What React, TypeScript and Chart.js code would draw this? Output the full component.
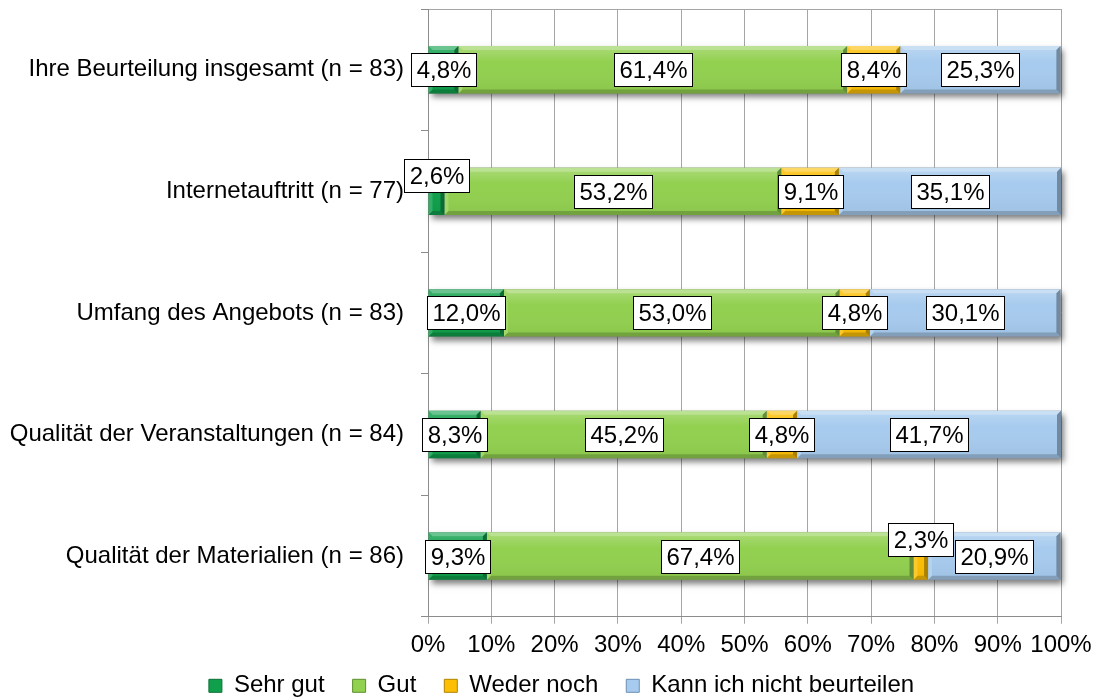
import { useEffect, useRef } from "react";
import { Chart, registerables } from "chart.js";

Chart.register(...registerables);

// ---------- data ----------
const categories = [
  "Ihre Beurteilung insgesamt (n = 83)",
  "Internetauftritt (n = 77)",
  "Umfang des Angebots (n = 83)",
  "Qualität der Veranstaltungen (n = 84)",
  "Qualität der Materialien (n = 86)",
];
const seriesNames = ["Sehr gut", "Gut", "Weder noch", "Kann ich nicht beurteilen"];
const sehrGut = [4.8, 2.6, 12.0, 8.3, 9.3];
const gut = [61.4, 53.2, 53.0, 45.2, 67.4];
const wederNoch = [8.4, 9.1, 4.8, 4.8, 2.3];
const kannNicht = [25.3, 35.1, 30.1, 41.7, 20.9];
const xMin = 0;
const xMax = 100;
const xStep = 10;

// ---------- style ----------
const FONT = '"Liberation Sans", Arial, sans-serif';
const colors = ["#10a04c", "#92d050", "#fcbf06", "#a7cbee"];
const borderColors = ["#0b6e34", "#5e8f2c", "#b08200", "#6d8fb3"];
const GRID = "#a6a6a6";
const AXIS = "#8c8c8c";
// vertical lift (px) for labels that were moved off the bar centre: "dataset-index"
const labelLift: Record<string, number> = { "0-1": 16, "2-4": 17 };
// legend offset relative to Chart.js' default placement
const LEGEND_DX = 31;
const LEGEND_DY = -22;

function fmt(v: number) {
  return v.toFixed(1).replace(".", ",") + "%";
}

function poly(ctx: CanvasRenderingContext2D, pts: number[][], fill: string) {
  ctx.beginPath();
  ctx.moveTo(pts[0][0], pts[0][1]);
  for (let i = 1; i < pts.length; i++) ctx.lineTo(pts[i][0], pts[i][1]);
  ctx.closePath();
  ctx.fillStyle = fill;
  ctx.fill();
}

const legendShift = {
  id: "legendShift",
  afterLayout(chart: any) {
    const lg = chart.legend;
    if (!lg) return;
    lg.left += LEGEND_DX;
    lg.right += LEGEND_DX;
    lg.top += LEGEND_DY;
    lg.bottom += LEGEND_DY;
  },
};

const barDecor = {
  id: "barDecor",
  beforeDatasetsDraw(chart: any) {
    const ctx = chart.ctx as CanvasRenderingContext2D;
    const first = chart.getDatasetMeta(0);
    const last = chart.getDatasetMeta(chart.data.datasets.length - 1);
    first.data.forEach((el: any, i: number) => {
      const a = el.getProps(["base", "y", "height"], true);
      const b = last.data[i].getProps(["x"], true);
      ctx.save();
      ctx.shadowColor = "rgba(0,0,0,0.5)";
      ctx.shadowBlur = 6;
      ctx.shadowOffsetX = 3;
      ctx.shadowOffsetY = 4;
      ctx.fillStyle = "#777";
      ctx.fillRect(a.base, a.y - a.height / 2, b.x - a.base, a.height);
      ctx.restore();
    });
  },
  afterDatasetsDraw(chart: any) {
    const ctx = chart.ctx as CanvasRenderingContext2D;
    // bevel
    chart.data.datasets.forEach((ds: any, di: number) => {
      const meta = chart.getDatasetMeta(di);
      meta.data.forEach((el: any) => {
        const p = el.getProps(["x", "y", "base", "height"], true);
        const l = Math.min(p.x, p.base);
        const r = Math.max(p.x, p.base);
        const t = p.y - p.height / 2;
        const btm = p.y + p.height / 2;
        const bv = Math.min(4, (r - l) / 2);
        ctx.save();
        poly(ctx, [[l, t], [r, t], [r - bv, t + bv], [l + bv, t + bv]], "rgba(255,255,255,0.38)");
        poly(ctx, [[l, btm], [r, btm], [r - bv, btm - bv], [l + bv, btm - bv]], "rgba(0,0,0,0.22)");
        poly(ctx, [[l, t], [l + bv, t + bv], [l + bv, btm - bv], [l, btm]], "rgba(255,255,255,0.15)");
        poly(ctx, [[r, t], [r - bv, t + bv], [r - bv, btm - bv], [r, btm]], "rgba(0,0,0,0.32)");
        const g = ctx.createLinearGradient(0, t + bv, 0, btm - bv);
        g.addColorStop(0, "rgba(255,255,255,0.18)");
        g.addColorStop(0.3, "rgba(255,255,255,0)");
        g.addColorStop(1, "rgba(0,0,0,0.04)");
        ctx.fillStyle = g;
        ctx.fillRect(l + bv, t + bv, r - l - 2 * bv, btm - t - 2 * bv);
        ctx.restore();
      });
    });
    // data labels
    ctx.save();
    ctx.font = "24px " + FONT;
    ctx.textAlign = "center";
    ctx.textBaseline = "middle";
    chart.data.datasets.forEach((ds: any, di: number) => {
      const meta = chart.getDatasetMeta(di);
      meta.data.forEach((el: any, i: number) => {
        const p = el.getProps(["x", "y", "base"], true);
        const text = fmt(ds.data[i]);
        const tw = ctx.measureText(text).width;
        const w = Math.round(tw + 10);
        const h = 33;
        const cx = (p.x + p.base) / 2;
        const cy = p.y - (labelLift[`${di}-${i}`] || 0);
        const bx = Math.round(cx - w / 2) + 0.5;
        const by = Math.round(cy - h / 2) + 0.5;
        ctx.fillStyle = "#ffffff";
        ctx.fillRect(bx, by, w, h);
        ctx.strokeStyle = "#000000";
        ctx.lineWidth = 1;
        ctx.strokeRect(bx, by, w, h);
        ctx.fillStyle = "#000000";
        ctx.fillText(text, bx + w / 2, by + h / 2 + 1);
      });
    });
    ctx.restore();
  },
};

export default function App() {
  const ref = useRef<HTMLCanvasElement | null>(null);

  useEffect(() => {
    if (!ref.current) return;
    const seriesData = [sehrGut, gut, wederNoch, kannNicht];
    const chart = new Chart(ref.current, {
      type: "bar",
      data: {
        labels: categories,
        datasets: seriesNames.map((name, i) => ({
          label: name,
          data: seriesData[i],
          backgroundColor: colors[i],
          borderWidth: 0,
          barPercentage: 0.39,
          categoryPercentage: 1,
        })),
      },
      options: {
        indexAxis: "y",
        animation: false,
        responsive: true,
        maintainAspectRatio: false,
        layout: { padding: { left: 0, right: 32, top: 9, bottom: -32.8 } },
        scales: {
          x: {
            stacked: true,
            min: xMin,
            max: xMax,
            ticks: {
              stepSize: xStep,
              autoSkip: false,
              color: "#000",
              font: { family: FONT, size: 24 },
              padding: 7.6,
              callback: (v: any) => `${v}%`,
              maxRotation: 0,
            },
            grid: { color: GRID, tickColor: GRID, tickLength: 7, lineWidth: 1 },
            border: { color: AXIS, width: 1 },
            afterFit: (s: any) => {
              s.height = 51;
              s.paddingLeft = 0;
              s.paddingRight = 0;
            },
          },
          y: {
            stacked: true,
            ticks: {
              color: "#000",
              font: { family: FONT, size: 24, lineHeight: 0.75 },
              padding: 17,
            },
            grid: {
              offset: true,
              color: (c: any) => (c.index === 0 ? GRID : "rgba(0,0,0,0)"),
              tickColor: AXIS,
              tickLength: 7,
            },
            border: { color: AXIS, width: 1 },
            afterFit: (s: any) => {
              s.width = 428;
              s.paddingTop = 0;
              s.paddingBottom = 0;
            },
          },
        },
        plugins: {
          tooltip: { enabled: false },
          legend: {
            position: "bottom",
            labels: {
              color: "#000",
              font: { family: FONT, size: 24 },
              boxWidth: 13,
              boxHeight: 13,
              padding: 28,
              generateLabels: (c: any) =>
                (Chart.defaults.plugins.legend.labels as any).generateLabels(c).map((l: any, i: number) => ({
                  ...l,
                  strokeStyle: borderColors[i],
                  lineWidth: 1,
                })),
            },
          },
        },
      },
      plugins: [legendShift, barDecor],
    } as any);
    return () => chart.destroy();
  }, []);

  return (
    <div style={{ position: "fixed", left: 0, top: 0, width: 1093, height: 697, background: "#fff" }}>
      <canvas ref={ref} />
    </div>
  );
}
